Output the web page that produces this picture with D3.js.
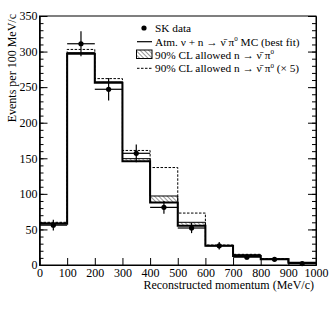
<!DOCTYPE html>
<html><head><meta charset="utf-8">
<script src="https://cdn.jsdelivr.net/npm/d3@7"></script>
<style>body{margin:0;background:#fff}svg{display:block}text{font-family:"Liberation Serif","Times New Roman",serif;fill:#000}</style>
</head><body>
<svg id="c" width="332" height="316"></svg>
<script>
const binEdges = [0,100,200,300,400,500,600,700,800,900,1000];
const bestFit  = [58, 297, 256, 146, 88, 55, 27, 12.5, 8, 3];
const clAllowed = [59, 298.5, 257.5, 149.5, 97, 60, 27.5, 14.5, 8.5, 3.2];
const clTimes5 = [60, 303, 262, 161, 137, 73, 28, 15, 9, 3.5];
const skData = [56, 311, 247, 157, 81, 52, 27, 11, 8, 2];
const skErr  = [7.5, 17.6, 15.7, 12.5, 9, 7.2, 5.2, 3.3, 2.8, 1.4];
const xTicks = [0,100,200,300,400,500,600,700,800,900,1000];
const yTicks = [0,50,100,150,200,250,300,350];

const svg = d3.select("#c");
const x = d3.scaleLinear().domain([0,1000]).range([39.5,316]);
const y = d3.scaleLinear().domain([0,350]).range([265,16]);

const defs = svg.append("defs");
const pat = defs.append("pattern").attr("id","hatch").attr("patternUnits","userSpaceOnUse")
  .attr("width",3).attr("height",3).attr("patternTransform","rotate(-45)");
pat.append("line").attr("x1",0).attr("y1",-1).attr("x2",0).attr("y2",4).attr("stroke","#000").attr("stroke-width",0.8);

function pts(vals){ const p = vals.map((v,i)=>({x:binEdges[i],v})); p.push({x:binEdges[vals.length],v:vals[vals.length-1]}); return p; }
const line = d3.line().curve(d3.curveStepAfter).x(d=>x(d.x)).y(d=>y(d.v));

const bandPts = bestFit.map((b,i)=>({x:binEdges[i],b,c:clAllowed[i]}));
bandPts.push({x:1000,b:bestFit[9],c:clAllowed[9]});
svg.append("path").datum(bandPts)
  .attr("d", d3.area().curve(d3.curveStepAfter).x(d=>x(d.x)).y0(d=>y(d.b)).y1(d=>y(d.c)))
  .attr("fill","url(#hatch)");
svg.append("path").datum(pts(clAllowed)).attr("d",line).attr("fill","none").attr("stroke","#000").attr("stroke-width",1);
svg.append("path").datum(pts(clTimes5)).attr("d",line).attr("fill","none").attr("stroke","#000").attr("stroke-width",1).attr("stroke-dasharray","2.5,1.5");
svg.append("path").datum(pts(bestFit)).attr("d",line).attr("fill","none").attr("stroke","#000").attr("stroke-width",2);

const dg = svg.append("g");
skData.forEach((v,i)=>{
  const cx = x((binEdges[i]+binEdges[i+1])/2);
  dg.append("line").attr("x1",x(binEdges[i])).attr("x2",x(binEdges[i+1])).attr("y1",y(v)).attr("y2",y(v)).attr("stroke","#000").attr("stroke-width",1.2);
  dg.append("line").attr("x1",cx).attr("x2",cx).attr("y1",y(Math.max(0,v-skErr[i]))).attr("y2",y(v+skErr[i])).attr("stroke","#000").attr("stroke-width",1.2);
  dg.append("circle").attr("cx",cx).attr("cy",y(v)).attr("r",2.6).attr("fill","#000");
});

svg.append("rect").attr("x",x(0)).attr("y",y(350)).attr("width",x(1000)-x(0)).attr("height",y(0)-y(350))
  .attr("fill","none").attr("stroke","#000").attr("stroke-width",1);

const fs = "12px";
const yl = svg.append("g").attr("transform",`translate(${x(0)},0)`)
  .call(d3.axisLeft(y).tickValues(yTicks).tickSizeInner(-8).tickSizeOuter(0).tickPadding(2).tickFormat(d3.format("d")));
svg.append("g").attr("transform",`translate(${x(0)},0)`)
  .call(d3.axisLeft(y).tickValues(d3.range(0,351,10)).tickSizeInner(-4).tickSizeOuter(0).tickFormat(""));
svg.append("g").attr("transform",`translate(${x(1000)},0)`)
  .call(d3.axisRight(y).tickValues(yTicks).tickSizeInner(-8).tickSizeOuter(0).tickFormat(""));
svg.append("g").attr("transform",`translate(${x(1000)},0)`)
  .call(d3.axisRight(y).tickValues(d3.range(0,351,10)).tickSizeInner(-4).tickSizeOuter(0).tickFormat(""));
const xl = svg.append("g").attr("transform",`translate(0,${y(0)})`)
  .call(d3.axisBottom(x).tickValues(xTicks).tickSizeInner(-7).tickSizeOuter(0).tickPadding(3).tickFormat(d3.format("d")));
svg.selectAll(".domain").attr("stroke","#000");
svg.selectAll(".tick line").attr("stroke","#000");
svg.selectAll(".tick text").attr("font-family",'"Liberation Serif","Times New Roman",serif').attr("font-size",fs).attr("fill","#000");
yl.selectAll(".tick text").attr("dy","0.32em");

svg.append("text").attr("transform","translate(16,14) rotate(-90)").attr("text-anchor","end")
  .attr("font-size","12px").text("Events per 100 MeV/c");
svg.append("text").attr("x",314).attr("y",289).attr("text-anchor","end")
  .attr("font-size","12px").text("Reconstructed momentum (MeV/c)");

const lg = svg.append("g").attr("font-size","11.3px");
const lx = 155;
lg.append("circle").attr("cx",144).attr("cy",28).attr("r",2.6).attr("fill","#000");
lg.append("text").attr("x",lx).attr("y",32).text("SK data");
lg.append("line").attr("x1",137).attr("x2",152).attr("y1",41.7).attr("y2",41.7).attr("stroke","#000").attr("stroke-width",1.2);
function decay(t, pre, post){
  t.append("tspan").text(pre + "ν\u0304");
  t.append("tspan").attr("dx",3).text("π");
  t.append("tspan").attr("font-size","7px").attr("dy",-4.5).text("0");
  t.append("tspan").attr("dy",4.5).text(post);
}
decay(lg.append("text").attr("x",lx).attr("y",45.5), "Atm. ν + n → ", " MC (best fit)");
lg.append("rect").attr("x",136.5).attr("y",50).attr("width",15.5).attr("height",8.5).attr("fill","url(#hatch)").attr("stroke","#000").attr("stroke-width",1);
decay(lg.append("text").attr("x",lx).attr("y",58.5), "90% CL allowed n → ", "");
lg.append("line").attr("x1",137).attr("x2",152).attr("y1",68.3).attr("y2",68.3).attr("stroke","#000").attr("stroke-width",1).attr("stroke-dasharray","2.5,1.5");
decay(lg.append("text").attr("x",lx).attr("y",72), "90% CL allowed n → ", " (× 5)");
</script>
</body></html>
